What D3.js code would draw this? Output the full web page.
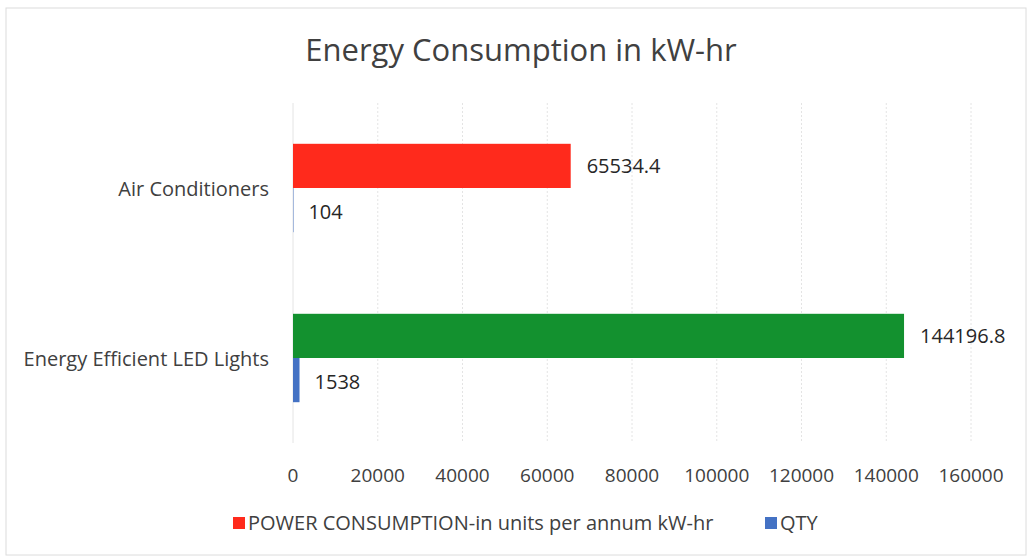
<!DOCTYPE html>
<html>
<head>
<meta charset="utf-8">
<script src="https://cdn.jsdelivr.net/npm/d3@7"></script>
<style>
  body { margin: 0; background: #fff; }
  text { font-family: "Open Sans", Lato, sans-serif; fill: #404040; }
</style>
</head>
<body>
<div id="chart"></div>
<script>
// chart data
const categories = ['Air Conditioners', 'Energy Efficient LED Lights'];
const seriesNames = ['POWER CONSUMPTION-in units per annum kW-hr', 'QTY'];
const power = [65534.4, 144196.8];
const qty = [104, 1538];
const xTicks = [0, 20000, 40000, 60000, 80000, 100000, 120000, 140000, 160000];

const width = 1030, height = 559;
const margin = {top: 103, right: 59, bottom: 116, left: 293};

const svg = d3.select('#chart').append('svg')
    .attr('width', width)
    .attr('height', height);

// outer frame
svg.append('rect')
    .attr('x', 6).attr('y', 8)
    .attr('width', width - 10).attr('height', height - 12)
    .attr('fill', 'none')
    .attr('stroke', '#dcdcdc');

const x = d3.scaleLinear().domain([0, 160000]).range([margin.left, width - margin.right]);
const y = d3.scaleBand().domain(categories).range([margin.top, height - margin.bottom]).paddingInner(0.48).paddingOuter(0.24);

// gridlines
svg.append('g')
    .selectAll('line')
    .data(xTicks)
    .join('line')
    .attr('x1', d => x(d)).attr('x2', d => x(d))
    .attr('y1', margin.top).attr('y2', height - margin.bottom)
    .attr('stroke', '#e4e4e4')
    .attr('stroke-dasharray', d => d === 0 ? null : '2,2');

// tick labels
svg.append('g')
    .selectAll('text')
    .data(xTicks)
    .join('text')
    .attr('x', d => x(d))
    .attr('y', 482)
    .attr('text-anchor', 'middle')
    .style('font-size', '19px')
    .text(d => d);

// category labels
svg.append('g')
    .selectAll('text')
    .data(categories)
    .join('text')
    .attr('x', 269)
    .attr('y', d => y(d) + y.bandwidth() / 2 + 8)
    .attr('text-anchor', 'end')
    .style('font-size', '20px')
    .text(d => d);

const powerColors = ['#ff2a1c', '#13912f'];
const qtyColor = '#4472c4';
const barH = y.bandwidth() / 2;

// power bars
svg.append('g')
    .selectAll('rect')
    .data(categories)
    .join('rect')
    .attr('x', x(0))
    .attr('y', d => y(d))
    .attr('width', (d, i) => x(power[i]) - x(0))
    .attr('height', barH)
    .attr('fill', (d, i) => powerColors[i]);

// qty bars
svg.append('g')
    .selectAll('rect')
    .data(categories)
    .join('rect')
    .attr('x', x(0))
    .attr('y', d => y(d) + barH)
    .attr('width', (d, i) => x(qty[i]) - x(0))
    .attr('height', barH)
    .attr('fill', qtyColor);

// value labels
svg.append('g')
    .selectAll('text')
    .data(categories)
    .join('text')
    .attr('x', (d, i) => x(power[i]) + 16)
    .attr('y', d => y(d) + barH / 2 + 7)
    .style('font-size', '20px')
    .style('fill', '#262626')
    .text((d, i) => power[i]);

svg.append('g')
    .selectAll('text')
    .data(categories)
    .join('text')
    .attr('x', (d, i) => x(qty[i]) + 15)
    .attr('y', d => y(d) + barH * 1.5 + 9)
    .style('font-size', '20px')
    .style('fill', '#262626')
    .text((d, i) => qty[i]);

// title
svg.append('text')
    .attr('x', 521)
    .attr('y', 61)
    .attr('text-anchor', 'middle')
    .style('font-size', '31px')
    .text('Energy Consumption in kW-hr');

// legend
const legend = svg.append('g');
const legendItems = [
  {name: seriesNames[0], color: powerColors[0], x: 233},
  {name: seriesNames[1], color: qtyColor, x: 765}
];
legend.selectAll('rect')
    .data(legendItems)
    .join('rect')
    .attr('x', d => d.x).attr('y', 517)
    .attr('width', 12).attr('height', 12)
    .attr('fill', d => d.color);
legend.selectAll('text')
    .data(legendItems)
    .join('text')
    .attr('x', d => d.x + 15)
    .attr('y', 530)
    .style('font-size', '20px')
    .text(d => d.name);
</script>
</body>
</html>
